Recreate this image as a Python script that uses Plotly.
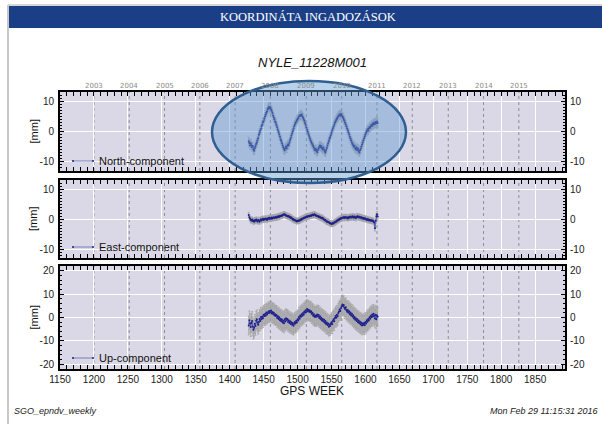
import plotly.graph_objects as go

# ---------------------------------------------------------------------------
# Weekly coordinate residuals of station NYLE_11228M001 (mm)
# ---------------------------------------------------------------------------
gps_weeks = list(range(1428, 1619))

north_mm = [
    -3.2, -3.8, -4.6, -3.9, -4.5, -5.2, -4.8, -5.9, -6.3, -5.4,
    -4.8, -4.1, -3.6, -2.9, -2.2, -1.1, -0.4, 0.3, 0.9, 1.8,
    2.3, 3.1, 3.4, 4.2, 4.9, 5.6, 6.2, 6.6, 7.3, 7.8,
    8.1, 7.6, 7.9, 7.2, 6.8, 6.1, 5.2, 4.6, 4.0, 3.3,
    2.9, 2.1, 1.4, 0.6, -0.2, -0.9, -1.7, -2.6, -3.1, -3.9,
    -4.6, -5.3, -5.8, -6.2, -5.4, -4.9, -5.6, -4.7, -4.2, -4.5,
    -3.6, -2.8, -2.1, -1.3, -0.6, 0.2, 0.9, 1.7, 2.3, 2.8,
    3.2, 3.7, 4.1, 4.4, 4.9, 5.1, 5.4, 5.2, 5.6, 5.0,
    4.6, 4.1, 3.5, 2.8, 2.2, 1.3, 0.6, -0.1, -0.8, -1.5,
    -2.2, -2.9, -3.4, -3.9, -4.4, -4.8, -5.3, -5.9, -6.2, -5.7,
    -6.4, -6.8, -6.1, -5.6, -5.0, -4.6, -5.2, -4.8, -5.5, -5.9,
    -5.3, -6.0, -6.6, -6.9, -6.2, -5.4, -4.6, -3.9, -3.1, -2.4,
    -1.9, -1.2, -0.5, 0.3, 1.0, 1.6, 2.2, 2.9, 3.4, 3.9,
    4.3, 4.6, 5.0, 5.3, 5.6, 5.2, 5.8, 5.4, 4.9, 4.6,
    4.1, 3.6, 3.0, 2.4, 1.7, 1.0, 0.4, -0.3, -1.0, -1.8,
    -2.4, -3.0, -3.6, -4.1, -4.5, -5.0, -4.7, -5.5, -5.9, -5.3,
    -6.1, -5.6, -6.4, -6.9, -6.2, -5.8, -5.0, -4.3, -3.6, -2.9,
    -2.2, -1.6, -1.0, -0.4, 0.1, 0.7, 0.3, 1.0, 1.5, 1.2,
    1.8, 2.2, 1.9, 2.6, 2.3, 2.9, 2.5, 3.1, 2.7, 3.3,
    2.8,
]

east_mm = [
    1.3, 0.6, 0.1, -0.3, -0.5, -0.2, -0.7, -0.5, -0.9, -0.4,
    -0.6, -0.2, -0.5, -0.8, -0.3, -0.6, -0.9, -0.4, -0.1, -0.5,
    -0.2, 0.1, -0.3, 0.0, -0.2, 0.2, 0.0, -0.3, 0.1, 0.3,
    0.0, 0.4, 0.2, 0.1, 0.5, 0.2, 0.4, 0.6, 0.3, 0.5,
    0.7, 0.4, 0.8, 0.6, 0.9, 0.7, 1.1, 0.9, 1.2, 1.0,
    1.3, 1.5, 1.4, 1.6, 1.3, 1.1, 1.2, 0.9, 0.8, 1.0,
    0.6, 0.7, 0.3, 0.5, 0.1, -0.2, 0.0, -0.4, -0.3, -0.6,
    -0.5, -0.8, -0.6, -0.7, -0.4, -0.6, -0.2, -0.3, 0.1, -0.1,
    0.2, 0.4, 0.3, 0.6, 0.5, 0.8, 0.7, 0.9, 1.0, 0.8,
    1.1, 1.2, 1.0, 1.3, 1.5, 1.2, 1.4, 1.6, 1.3, 1.1,
    1.2, 0.9, 1.0, 0.7, 0.8, 0.5, 0.6, 0.3, 0.2, 0.4,
    0.0, -0.2, -0.4, -0.3, -0.7, -0.9, -0.8, -1.1, -1.0, -1.3,
    -1.5, -1.4, -1.7, -1.6, -1.3, -1.5, -1.1, -1.2, -0.8, -0.9,
    -0.5, -0.6, -0.2, -0.3, 0.1, 0.0, 0.3, 0.2, 0.5, 0.4,
    0.6, 0.3, 0.7, 0.5, 0.4, 0.6, 0.2, 0.5, 0.7, 0.4,
    0.8, 0.6, 0.5, 0.9, 0.7, 0.4, 0.8, 0.6, 0.3, 0.7,
    0.9, 0.6, 0.8, 0.5, 0.7, 0.4, 0.6, 0.2, 0.4, 0.1,
    0.3, 0.0, 0.2, -0.1, -0.3, 0.0, -0.4, -0.2, -0.5, -0.3,
    -0.6, -0.4, -0.7, -0.5, -0.9, -1.2, -3.1, -0.6, 0.9, 1.6,
    0.8,
]

up_mm = [
    -3.4, -1.2, -2.6, -4.1, -2.3, -1.5, -3.8, -5.2, -4.4, -2.7,
    -3.6, -1.4, -0.8, -2.2, -3.1, -1.9, -0.6, -1.5, 0.2, -0.7,
    0.4, -0.3, 1.2, 0.6, 1.5, 0.8, 2.1, 1.3, 1.8, 2.6,
    1.9, 2.8, 2.2, 3.0, 1.7, 2.4, 1.5, 2.0, 0.9, 1.4,
    0.6, 1.1, -0.2, 0.5, -0.6, 0.1, -1.2, -0.5, -1.6, -0.9,
    -2.1, -1.4, -2.5, -0.8, -1.7, -0.3, -1.1, -0.6, -1.9, -1.2,
    -2.3, -1.6, -2.8, -2.0, -3.1, -2.4, -3.5, -2.7, -1.9, -2.6,
    -1.4, -2.1, -0.8, -1.3, 0.2, -0.5, 0.9, 0.3, 1.4, 0.8,
    1.9, 1.2, 2.6, 2.0, 3.1, 2.4, 3.6, 2.8, 3.3, 2.5,
    3.0, 2.2, 2.7, 1.5, 2.0, 0.8, 1.4, 0.3, 0.9, 0.2,
    0.7, 1.3, 0.4, 1.1, -0.2, 0.5, -0.8, -0.1, -1.3, -0.6,
    -1.7, -1.0, -2.2, -1.5, -2.8, -2.1, -3.2, -2.6, -3.9, -3.0,
    -3.6, -2.7, -2.0, -2.9, -1.5, -0.8, -1.6, -0.2, 0.6, -0.1,
    1.2, 0.5, 1.9, 2.6, 3.4, 2.8, 4.1, 4.8, 5.6, 4.9,
    5.3, 4.2, 3.6, 4.4, 3.1, 2.5, 3.2, 2.0, 2.7, 1.4,
    2.1, 0.9, 1.6, 0.3, 1.0, -0.4, 0.2, -1.0, -0.3, -1.5,
    -0.8, -2.0, -1.3, -2.5, -1.8, -3.0, -2.2, -3.4, -2.6, -3.1,
    -2.4, -3.3, -1.9, -2.6, -1.2, -1.8, -0.6, -1.3, 0.1, -0.5,
    0.8, 0.2, 1.3, 0.4, 1.6, 0.7, -0.4, 1.2, -0.8, 0.9,
    0.3,
]

# formal 1-sigma uncertainty of each component (mm)
north_sigma = 1.3
east_sigma = 0.9
up_sigma = 4.0

component_names = ["North-component", "East-component", "Up-component"]
y_ranges = [[-13, 13], [-13, 13], [-22, 22]]
y_ticks = [[-10, 0, 10], [-10, 0, 10], [-20, -10, 0, 10, 20]]

# calendar year boundaries expressed in GPS weeks
year_labels = ["2003", "2004", "2005", "2006", "2007", "2008", "2009",
               "2010", "2011", "2012", "2013", "2014", "2015"]
year_start_weeks = [1200, 1252, 1304, 1356, 1408, 1460, 1513,
                    1565, 1617, 1669, 1722, 1774, 1826]

week_range = [1150, 1894]

# ---------------------------------------------------------------------------
# page geometry (pixel helpers for decorations outside the data area)
# ---------------------------------------------------------------------------
W, H = 602, 424
PL, PR, PT, PB = 60, 565, 92, 369


def fx(x):
    return (x - PL) / (PR - PL)


def fy(y):
    return (PB - y) / (PB - PT)


domains = [[fy(171), 1.0], [fy(258), fy(180)], [0.0, fy(266)]]

FONT = "Liberation Sans, Arial, sans-serif"
BG = "#dad8e6"

fig = go.Figure()

series = [north_mm, east_mm, up_mm]
sigmas = [north_sigma, east_sigma, up_sigma]
for i, (vals, sig) in enumerate(zip(series, sigmas)):
    n = i + 1
    fig.add_trace(go.Scatter(
        x=gps_weeks, y=vals,
        xaxis="x" if n == 1 else f"x{n}",
        yaxis="y" if n == 1 else f"y{n}",
        mode="lines+markers",
        line=dict(color="#4450b4", width=0.8),
        marker=dict(color="#20208c", size=2),
        error_y=dict(type="constant", value=sig, color="#a2a2a2",
                     thickness=0.8, width=1),
        showlegend=False, hoverinfo="skip",
    ))
    # placeholder trace so the mirrored right-hand axis is rendered
    fig.add_trace(go.Scatter(
        x=[None], y=[None],
        xaxis="x" if n == 1 else f"x{n}",
        yaxis=f"y{n + 3}",
        showlegend=False, hoverinfo="skip",
    ))

axis_common = dict(
    showline=True, linecolor="black", linewidth=2, mirror="allticks",
    ticks="inside", ticklen=4, tickcolor="black", tickwidth=1,
    showgrid=True, gridcolor="white", gridwidth=1, zeroline=False,
    tickfont=dict(family=FONT, size=10, color="#222"),
)

layout = dict(
    width=W, height=H,
    margin=dict(l=PL, r=W - PR, t=PT, b=H - PB, pad=0),
    paper_bgcolor="white", plot_bgcolor=BG,
    showlegend=False,
)

for i in range(3):
    n = i + 1
    xk = "xaxis" if n == 1 else f"xaxis{n}"
    yk = "yaxis" if n == 1 else f"yaxis{n}"
    ya = "y" if n == 1 else f"y{n}"
    xa = "x" if n == 1 else f"x{n}"
    layout[xk] = dict(
        axis_common, anchor=ya, range=week_range,
        tick0=1150, dtick=50, showticklabels=(n == 3),
        minor=dict(ticks="inside", ticklen=2, dtick=10, tickcolor="black",
                   showgrid=False),
    )
    layout[yk] = dict(
        axis_common, anchor=xa, domain=domains[i], range=y_ranges[i],
        tickvals=y_ticks[i], ticktext=[str(v) for v in y_ticks[i]],
        ticklabelstandoff=2,
        minor=dict(ticks="inside", ticklen=2, dtick=1 if n < 3 else 2,
                   tickcolor="black", showgrid=False),
    )
    layout[f"yaxis{n + 3}"] = dict(
        overlaying=ya, anchor=xa, side="right", range=y_ranges[i],
        tickvals=y_ticks[i], ticktext=[str(v) for v in y_ticks[i]],
        showgrid=False, zeroline=False, showline=False, ticks="",
        ticklabelstandoff=4,
        tickfont=dict(family=FONT, size=10, color="#222"),
    )

fig.update_layout(**layout)

shapes = []
annotations = []

# page frame and blue header band
shapes.append(dict(type="line", xref="paper", yref="paper",
                   x0=fx(8), x1=fx(8), y0=fy(424), y1=fy(5),
                   line=dict(color="#c9c9c9", width=2)))
shapes.append(dict(type="line", xref="paper", yref="paper",
                   x0=fx(8), x1=fx(602), y0=fy(5), y1=fy(5),
                   line=dict(color="#c9c9c9", width=1.5)))
shapes.append(dict(type="rect", xref="paper", yref="paper",
                   x0=fx(9), x1=fx(603), y0=fy(28), y1=fy(6),
                   fillcolor="#1b3f86", line=dict(width=0)))
annotations.append(dict(text="KOORDINÁTA INGADOZÁSOK", xref="paper", yref="paper",
                        x=fx(308), y=fy(17), showarrow=False,
                        xanchor="center", yanchor="middle",
                        font=dict(family="Liberation Serif, serif", size=12.5,
                                  color="white")))

# station title
annotations.append(dict(text="<i>NYLE_11228M001</i>", xref="paper", yref="paper",
                        x=fx(312), y=fy(62), showarrow=False,
                        xanchor="center", yanchor="middle",
                        font=dict(family=FONT, size=13, color="#111")))

# year labels above the first panel
for lab, wk in zip(year_labels, year_start_weeks):
    annotations.append(dict(text=lab, xref="x", yref="paper", x=wk, y=fy(86),
                            showarrow=False, xanchor="center", yanchor="middle",
                            font=dict(family="DejaVu Sans, sans-serif", size=7,
                                      color="#8a8a8a")))

# dotted year boundaries in every panel
for i in range(3):
    n = i + 1
    xa = "x" if n == 1 else f"x{n}"
    ylo, yhi = domains[i]
    for wk in year_start_weeks:
        shapes.append(dict(type="line", xref=xa, yref="paper",
                           x0=wk, x1=wk, y0=ylo, y1=yhi, layer="below",
                           line=dict(color="#7c7c7c", width=0.8, dash="dot")))

# per-panel key and unit label
key_rows = [161, 247, 358]
for i, name in enumerate(component_names):
    yk = key_rows[i]
    shapes.append(dict(type="line", xref="paper", yref="paper",
                       x0=fx(73), x1=fx(93), y0=fy(yk), y1=fy(yk),
                       line=dict(color="#5a68b8", width=0.8)))
    for xc in (73, 93):
        shapes.append(dict(type="circle", xref="paper", yref="paper",
                           x0=fx(xc - 1.1), x1=fx(xc + 1.1),
                           y0=fy(yk + 1.1), y1=fy(yk - 1.1),
                           fillcolor="#2a2a90", line=dict(width=0)))
    annotations.append(dict(text=name, xref="paper", yref="paper",
                            x=fx(97), y=fy(yk), showarrow=False,
                            xanchor="left", yanchor="middle",
                            font=dict(family=FONT, size=11, color="#111")))
    yc = (domains[i][0] + domains[i][1]) / 2
    annotations.append(dict(text="[mm]", xref="paper", yref="paper",
                            x=fx(33), y=yc, showarrow=False, textangle=-90,
                            xanchor="center", yanchor="middle",
                            font=dict(family=FONT, size=11, color="#111")))

# axis title and footer
annotations.append(dict(text="GPS WEEK", xref="paper", yref="paper",
                        x=fx(312), y=fy(391), showarrow=False,
                        xanchor="center", yanchor="middle",
                        font=dict(family=FONT, size=12, color="#111")))
annotations.append(dict(text="<i>SGO_epndv_weekly</i>", xref="paper", yref="paper",
                        x=fx(12), y=fy(411), showarrow=False,
                        xanchor="left", yanchor="middle",
                        font=dict(family=FONT, size=9, color="#222")))
annotations.append(dict(text="<i>Mon Feb 29 11:15:31 2016</i>", xref="paper",
                        yref="paper", x=fx(599), y=fy(411), showarrow=False,
                        xanchor="right", yanchor="middle",
                        font=dict(family=FONT, size=9, color="#222")))

# highlight ellipse around the seasonal signal of the north component
shapes.append(dict(type="circle", xref="paper", yref="paper",
                   x0=fx(212), x1=fx(406), y0=fy(183), y1=fy(81),
                   fillcolor="rgba(100,155,211,0.45)", layer="above",
                   line=dict(color="#2f5f91", width=2.5)))

fig.update_layout(shapes=shapes, annotations=annotations)

fig.write_html("out.html")
